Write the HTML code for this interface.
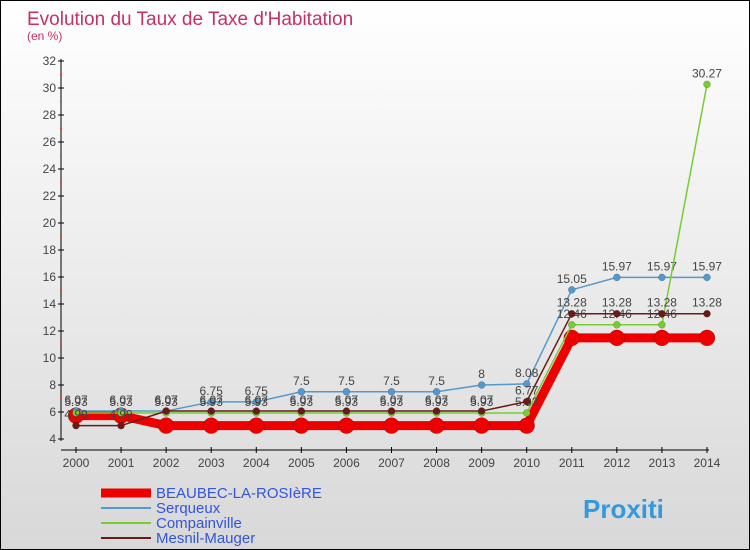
<!DOCTYPE html>
<html><head><meta charset="utf-8"><style>
body{margin:0}
#c{width:748px;height:548px;border:1px solid #000;background:linear-gradient(#fff,#d8d8d8);position:relative;font-family:"Liberation Sans",sans-serif}
</style></head><body>
<div id="c">
<svg id="s" width="748" height="548" style="position:absolute;left:0;top:0">
<text x="26" y="24" font-size="19" fill="#c8305f">Evolution du Taux de Taxe d'Habitation</text>
<text x="26" y="39" font-size="12" fill="#c8305f">(en %)</text>
</svg>
</div>
<script>
const years=[2000,2001,2002,2003,2004,2005,2006,2007,2008,2009,2010,2011,2012,2013,2014];
const beaubec=[5.73,5.73,4.99,4.99,4.99,4.99,4.99,4.99,4.99,4.99,4.99,11.49,11.49,11.49,11.49];
const serqueux=[6.07,6.07,6.07,6.75,6.75,7.5,7.5,7.5,7.5,8,8.08,15.05,15.97,15.97,15.97];
const compainville=[5.93,5.93,5.93,5.93,5.93,5.93,5.93,5.93,5.93,5.93,5.93,12.46,12.46,12.46,30.27];
const mesnil=[4.99,4.99,6.07,6.07,6.07,6.07,6.07,6.07,6.07,6.07,6.77,13.28,13.28,13.28,13.28];
const yTicks=[4,6,8,10,12,14,16,18,20,22,24,26,28,30,32];
const NS='http://www.w3.org/2000/svg';
const svg=document.getElementById('s');
const X=i=>75+i*45.07, Y=v=>438-(v-4)*13.5;
function mk(t,a){const e=document.createElementNS(NS,t);for(const k in a)e.setAttribute(k,a[k]);svg.appendChild(e);return e;}
let ax=mk('line',{x1:60,y1:58,x2:60,y2:440,stroke:'#000'});


let bx=mk('line',{x1:60,y1:449,x2:708,y2:449,stroke:'#000'});


yTicks.forEach(v=>{
 mk('line',{x1:57,x2:63,y1:Y(v),y2:Y(v),stroke:'#000'});
 if(v<32)mk('line',{x1:59,x2:61,y1:Y(v+1),y2:Y(v+1),stroke:'#e33'});
 const t=mk('text',{x:55,y:Y(v)+4,'font-size':12,fill:'#444','text-anchor':'end'});t.textContent=v;
 
 
});
years.forEach((y,i)=>{
 mk('line',{x1:X(i),x2:X(i),y1:446,y2:452,stroke:'#000'});
 const t=mk('text',{x:X(i),y:466,'font-size':12,fill:'#444','text-anchor':'middle'});t.textContent=y;
 
 
});
function series(d,col,w,r,name,labels){
 const p=mk('polyline',{points:d.map((v,i)=>X(i)+','+Y(v)).join(' '),fill:'none',stroke:col,'stroke-width':w});
 
 
 d.forEach((v,i)=>{
  const c=mk('circle',{cx:X(i),cy:Y(v),r:r,fill:col,stroke:'rgba(0,0,0,0.3)','stroke-width':0.5});
  
  
  if(labels){const t=mk('text',{x:X(i),y:Y(v)-7,'font-size':12,fill:'#444','text-anchor':'middle'});t.textContent=v;
  
  }
 });
}
series(beaubec,'#ee0000',9,8,'beaubec',false);
series(serqueux,'#5599cc',1.5,3.5,'serqueux',true);
series(compainville,'#77cc33',1.5,3.5,'compainville',true);
series(mesnil,'#6b1a1a',1.5,3.5,'mesnil',true);
const leg=[['BEAUBEC-LA-ROSIèRE','#ee0000',9],['Serqueux','#5599cc',2],['Compainville','#77cc33',2],['Mesnil-Mauger','#6b1a1a',2]];
leg.forEach((l,i)=>{
 const y=492+i*15;
 mk('line',{x1:100,x2:150,y1:y,y2:y,stroke:l[1],'stroke-width':l[2]});
 const t=mk('text',{x:155,y:y+5,'font-size':15,fill:'#3355dd'});t.textContent=l[0];
 
 
});
const lg=mk('text',{x:582,y:517,'font-size':26,'font-weight':'bold',fill:'#3399dd'});lg.textContent='Proxiti';


</script>
</body></html>
